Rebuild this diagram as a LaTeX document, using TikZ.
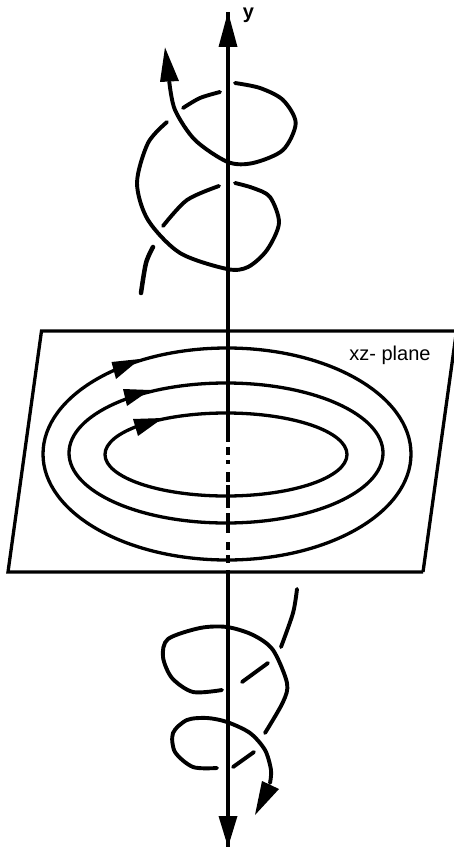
\documentclass[tikz,border=0pt]{standalone}
\usepackage{fontspec}
\setmainfont{Liberation Sans}
\usetikzlibrary{positioning}
\tikzset{
  curl/.style={line width=3.9pt,line cap=round,line join=round},
  rim/.style={line width=3.3pt},
  tip/.style={fill=black,draw=none}
}
\begin{document}
\begin{tikzpicture}[x=1pt,y=-1pt]
\useasboundingbox (0,0) rectangle (454,848);
\coordinate (ytop) at (228,12);
\coordinate (ybot) at (228,847);
\coordinate (ygap) at (228,442);
\coordinate (yend) at (228,570);
% plane
\begin{scope}
\clip (0,0) rectangle (454,848);
\draw[rim] (423,572)--(8,572)--(41.5,331)--(470,331);
\draw[rim] (423,572)--(456.5,331);
\end{scope}
% axis
\draw[line width=3.4pt] (ytop)--(ygap);
\draw[line width=3.4pt] (yend)--(ybot);
\foreach \a/\b in {447/455,460/464,472/482,485/508,513/533,542/550,555/563}
  \draw[line width=3.4pt] (228,\a)--(228,\b);
\fill[tip] (ytop)--(237.5,47)--(218.5,47)--cycle;
\fill[tip] (ybot)--(218.5,816)--(237.5,816)--cycle;
\node[font=\bfseries\fontsize{20}{22}\selectfont,inner sep=0pt] (ylabel) at (248.5,15) {y};
\node[font=\fontsize{20}{24}\selectfont,inner sep=0pt] (planelabel) at (390,355) {xz- plane};
% closed loops
\draw[rim] (227,454) ellipse (184 and 106);
\draw[rim] (226,453) ellipse (157 and 70);
\draw[rim] (226,454.5) ellipse (121 and 41.5);
\fill[tip] (140,359)--(111.5,362)--(116,379)--cycle;
\fill[tip] (150,390)--(123,389)--(127,406)--cycle;
\fill[tip] (163,418)--(133,419)--(138,436)--cycle;
% top spiral
\draw[curl] plot[smooth] coordinates {(169.3,82) (175,110) (195,140) (227.7,162) (253,163) (283,150) (295.7,123) (283,100) (260,88) (235,83)};
\fill[tip] (165,47.5)--(160,82)--(179,81)--cycle;
\draw[curl] plot[smooth] coordinates {(220,92) (200,98) (183,108)};
\draw[curl] plot[smooth] coordinates {(167,122) (148,143) (137,183) (148,220) (180,253) (227,269) (248,267) (267,250) (279,223) (270,197) (253,188) (235,183)};
\draw[curl] plot[smooth] coordinates {(219,186) (187,200) (163,226)};
\draw[curl,line width=4.5pt] plot[smooth] coordinates {(153,247) (146,263) (141,293)};
% bottom spiral
\draw[curl] plot[smooth] coordinates {(297,589) (293,613) (281,647)};
\draw[curl] plot[smooth] coordinates {(265,733) (283,702) (287,683) (273,650) (253,635) (227,627) (200,628) (168,639) (163,657) (172,678) (193,692) (222,690)};
\draw[curl] plot[smooth] coordinates {(268,663) (242,682)};
\draw[curl] plot[smooth] coordinates {(217,768) (193,767) (175,752) (173,733) (187,720) (207,718) (227,722) (250,733) (265,750) (271,770) (270,783)};
\draw[curl] plot[smooth] coordinates {(233,767) (254,752)};
\fill[tip] (255,815)--(262,781)--(279,789)--cycle;
\end{tikzpicture}
\end{document}
